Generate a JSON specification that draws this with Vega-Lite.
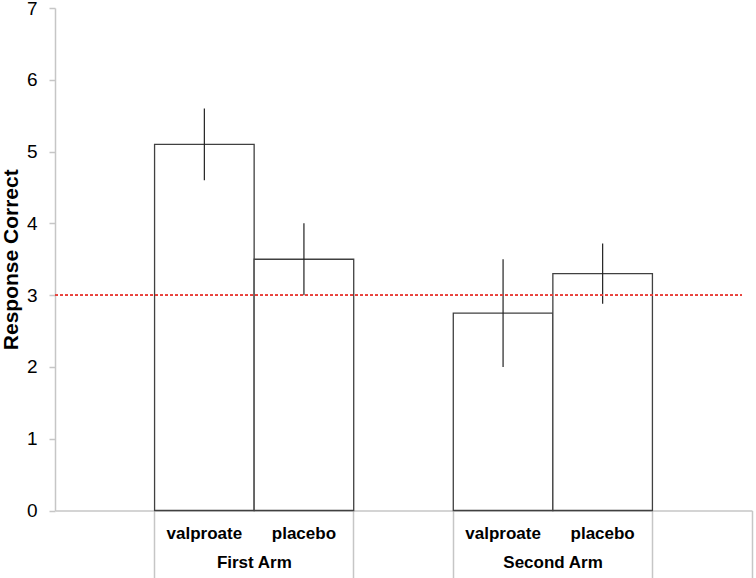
{
  "$schema": "https://vega.github.io/schema/vega-lite/v6.json",
  "width": 697,
  "height": 502.5,
  "autosize": "none",
  "padding": {"left": 55, "top": 8, "right": 4, "bottom": 67.5},
  "background": "white",
  "config": {
    "view": {"stroke": null},
    "font": "Liberation Sans",
    "axis": {"grid": false, "labelFont": "Liberation Sans", "titleFont": "Liberation Sans", "labelColor": "black", "titleColor": "black"}
  },
  "data": {
    "values": [
      {"arm": "First Arm", "drug": "valproate", "mean": 5.1, "lo": 4.6, "hi": 5.6},
      {"arm": "First Arm", "drug": "placebo", "mean": 3.5, "lo": 3.0, "hi": 4.0},
      {"arm": "Second Arm", "drug": "valproate", "mean": 2.75, "lo": 2.0, "hi": 3.5},
      {"arm": "Second Arm", "drug": "placebo", "mean": 3.3, "lo": 2.88, "hi": 3.72}
    ]
  },
  "transform": [{"calculate": "datum.arm + '|' + datum.drug", "as": "slot"}],
  "resolve": {"scale": {"x": "shared", "y": "shared"}, "axis": {"x": "independent"}},
  "layer": [
    {
      "mark": {"type": "bar", "fill": "white", "stroke": "#404040", "strokeWidth": 1.3},
      "encoding": {
        "x": {
          "field": "slot", "type": "nominal",
          "scale": {"domain": ["blank1", "First Arm|valproate", "First Arm|placebo", "blank2", "Second Arm|valproate", "Second Arm|placebo", "blank3"], "paddingInner": 0, "paddingOuter": 0},
          "sort": null,
          "axis": {
            "title": null, "orient": "bottom", "labelAngle": 0,
            "domain": true, "domainColor": "#c6c6c6", "domainWidth": 1.5,
            "ticks": false, "tickSize": 0,
            "labelExpr": "indexof(datum.value, '|') >= 0 ? split(datum.value, '|')[1] : ''",
            "labelFontSize": 17, "labelFontWeight": "bold", "labelPadding": 15,
            "labelOverlap": false, "labelBound": false, "labelFlush": false
          }
        },
        "y": {
          "field": "mean", "type": "quantitative",
          "scale": {"domain": [0, 7], "nice": false, "zero": true},
          "axis": {
            "title": "Response Correct", "values": [0, 1, 2, 3, 4, 5, 6, 7], "format": "d",
            "domainColor": "#c6c6c6", "domainWidth": 1.5,
            "tickColor": "#c6c6c6", "tickWidth": 1.5, "tickSize": 6,
            "labelFontSize": 19, "labelPadding": 12,
            "titleFontSize": 21, "titleFontWeight": "bold", "titlePadding": 5
          }
        }
      }
    },
    {
      "mark": {"type": "rule", "color": "#222222", "strokeWidth": 1.2},
      "encoding": {
        "x": {
          "field": "slot", "type": "nominal", "sort": null,
          "axis": {
            "title": null, "orient": "bottom", "labelAngle": 0,
            "domain": false, "ticks": false, "tickSize": 0,
            "values": ["First Arm|valproate", "Second Arm|valproate"],
            "labelOffset": 50, "labelAlign": "center",
            "labelExpr": "split(datum.value, '|')[0]",
            "labelFontSize": 17, "labelFontWeight": "bold", "labelPadding": 44,
            "labelOverlap": false, "labelBound": false, "labelFlush": false
          }
        },
        "y": {"field": "lo", "type": "quantitative", "title": "Response Correct"},
        "y2": {"field": "hi"}
      }
    },
    {
      "mark": {"type": "rule", "color": "#e8403a", "strokeWidth": 1.2, "strokeDash": [3, 2]},
      "encoding": {
        "x": {
          "datum": "blank1", "type": "nominal", "bandPosition": 0,
          "axis": {
            "title": null, "orient": "bottom",
            "domain": false, "labels": false,
            "ticks": true, "tickSize": 67, "tickColor": "#c6c6c6", "tickWidth": 1.5,
            "values": ["blank1", "First Arm|placebo", "blank2", "Second Arm|placebo", "blank3"],
            "bandPosition": 1
          }
        },
        "x2": {"datum": "blank3", "bandPosition": 0.9},
        "y": {"datum": 3, "type": "quantitative", "title": "Response Correct"}
      }
    }
  ]
}
